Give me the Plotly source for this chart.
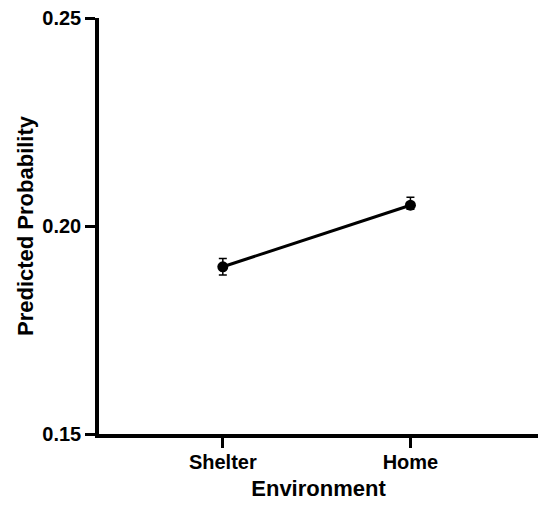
import plotly.graph_objects as go

# Predicted probability by environment, with error bars
environments = ["Shelter", "Home"]
predicted = [0.1902, 0.2050]
err_plus = [0.0020, 0.0019]
err_minus = [0.0020, 0.0010]

y_ticks = [0.15, 0.20, 0.25]
y_tick_text = ["0.15", "0.20", "0.25"]

font_family = "Liberation Sans, Arial, sans-serif"


def bold(labels):
    return [f"<b>{t}</b>" for t in labels]


fig = go.Figure()
fig.add_trace(go.Scatter(
    x=[0, 1],
    y=predicted,
    mode="lines+markers",
    line=dict(color="black", width=3),
    marker=dict(color="black", size=11),
    error_y=dict(
        type="data",
        symmetric=False,
        array=err_plus,
        arrayminus=err_minus,
        color="black",
        thickness=1.5,
        width=4,
    ),
    showlegend=False,
))

axis_style = dict(
    ticks="outside",
    ticklen=10,
    tickwidth=3,
    tickcolor="black",
    showline=True,
    linewidth=3.5,
    linecolor="black",
    showgrid=False,
    zeroline=False,
    tickfont=dict(size=20, family=font_family),
)

fig.update_layout(
    width=540,
    height=508,
    margin=dict(l=99, r=2, t=18, b=74),
    paper_bgcolor="white",
    plot_bgcolor="white",
    font=dict(family=font_family, color="black"),
    xaxis=dict(
        range=[-0.66, 1.68],
        tickmode="array",
        tickvals=[0, 1],
        ticktext=bold(environments),
        ticklabelstandoff=-3,
        title=dict(text="<b>Environment</b>", font=dict(size=22, family=font_family), standoff=10),
        **axis_style,
    ),
    yaxis=dict(
        range=[0.15, 0.25],
        tickmode="array",
        tickvals=y_ticks,
        ticktext=bold(y_tick_text),
        title=dict(text="<b>Predicted Probability</b>", font=dict(size=22, family=font_family), standoff=4),
        **axis_style,
    ),
)

fig.write_html("out.html")
